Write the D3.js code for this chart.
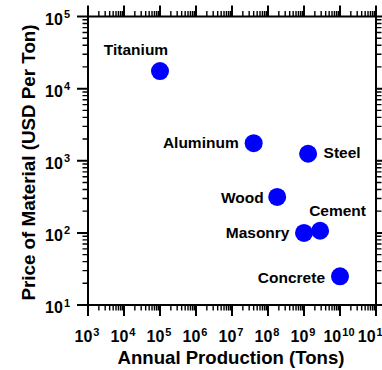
<!DOCTYPE html>
<html>
<head>
<meta charset="utf-8">
<script src="https://cdn.jsdelivr.net/npm/d3@7"></script>
<style>
  html, body { margin: 0; padding: 0; background: #fff; }
  svg { display: block; }
  text { font-family: "Liberation Sans", Arial, Helvetica, sans-serif; font-weight: bold; fill: #000; }
</style>
</head>
<body>
<svg id="chart" width="382" height="370"></svg>
<script>
// ---- data ----
const materials  = ["Titanium", "Aluminum", "Steel", "Wood", "Masonry", "Cement", "Concrete"];
const production = [1e5, 4e7, 1.3e9, 1.8e8, 1e9, 2.8e9, 1e10];     // tons per year
const price      = [17500, 1750, 1250, 315, 100, 107, 25];          // USD per ton
const xTickExponents = [3, 4, 5, 6, 7, 8, 9, 10, 11];
const yTickExponents = [1, 2, 3, 4, 5];
const xTitle = "Annual Production (Tons)";
const yTitle = "Price of Material (USD Per Ton)";

(function () {
const svg = d3.select("#chart");
const mLeft = 88, mRight = 376, mTop = 16.5, mBottom = 305;

const x = d3.scaleLog().domain([1e3, 1e11]).range([mLeft, mRight]);
const y = d3.scaleLog().domain([1e1, 1e5]).range([mBottom, mTop]);

// tick labels with superscripts
function powLabel(sel, exp) {
  sel.append("tspan").text("10");
  sel.append("tspan").attr("dx", 1).attr("dy", -6.5)
    .style("font-size", "11px").text(exp);
}
xTickExponents.forEach(e => {
  svg.append("text")
    .attr("x", x(Math.pow(10, e)) - (e === 11 ? 3 : 1)).attr("y", mBottom + 37)
    .attr("text-anchor", "middle").style("font-size", "16px")
    .call(s => powLabel(s, e));
});
yTickExponents.forEach(e => {
  svg.append("text")
    .attr("x", mLeft - 18).attr("y", y(Math.pow(10, e)) + 8)
    .attr("text-anchor", "end").style("font-size", "16px")
    .call(s => powLabel(s, e));
});

// axis titles
svg.append("text")
  .attr("x", (mLeft + mRight) / 2 - 1).attr("y", 363.5)
  .attr("text-anchor", "middle").style("font-size", "18.6px")
  .text(xTitle);
svg.append("text")
  .attr("transform", `translate(35,${162.5}) rotate(-90)`)
  .attr("text-anchor", "middle").style("font-size", "18.8px")
  .text(yTitle);

// points
const pts = materials.map((m, i) => ({ name: m, px: production[i], py: price[i] }));
svg.append("g").selectAll("circle").data(pts).join("circle")
  .attr("cx", d => x(d.px)).attr("cy", d => y(d.py))
  .attr("r", 9).attr("fill", "#0000ff");

// label placement (offsets from point centre)
const place = {
  Titanium: { anchor: "middle", dx: -24, dy: -16 },
  Aluminum: { anchor: "end", dx: -15, dy: 4.5 },
  Steel:    { anchor: "start", dx: 15.5, dy: 4.5 },
  Wood:     { anchor: "end", dx: -13.5, dy: 6.5 },
  Masonry:  { anchor: "end", dx: -14.5, dy: 5.5 },
  Cement:   { anchor: "middle", dx: 17.5, dy: -15 },
  Concrete: { anchor: "end", dx: -15, dy: 7 }
};
svg.append("g").selectAll("text").data(pts).join("text")
  .attr("x", d => x(d.px) + place[d.name].dx)
  .attr("y", d => y(d.py) + place[d.name].dy)
  .attr("text-anchor", d => place[d.name].anchor)
  .style("font-size", "15.5px")
  .text(d => d.name);

// ticks (drawn last), one path per side and weight
const isMajor = v => Math.abs(Math.log10(v) - Math.round(Math.log10(v))) < 1e-9;
const xAll = x.ticks(), yAll = y.ticks();
function tickPath(vals, scale, side, L) {
  return vals.map(v => {
    const p = scale(v);
    if (side === "b") return `M${p},${mBottom}V${mBottom + L}`;
    if (side === "t") return `M${p},${mTop}V${mTop - L}`;
    if (side === "l") return `M${mLeft},${p}H${mLeft - L}`;
    return `M${mRight},${p}H${mRight + L}`;
  }).join("");
}
const sets = [
  [xAll.filter(isMajor), x, "b", 11, 2], [xAll.filter(v => !isMajor(v)), x, "b", 5.5, 1.4],
  [xAll.filter(isMajor), x, "t", 11, 2], [xAll.filter(v => !isMajor(v)), x, "t", 5.5, 1.4],
  [yAll.filter(isMajor), y, "l", 11, 2], [yAll.filter(v => !isMajor(v)), y, "l", 5.5, 1.4],
  [yAll.filter(isMajor), y, "r", 11, 2], [yAll.filter(v => !isMajor(v)), y, "r", 5.5, 1.4]
];
const tg = svg.append("g");
sets.forEach(([vals, sc, side, L, w]) => {
  tg.append("path")
    .attr("d", tickPath(vals, sc, side, L))
    .attr("fill", "none").attr("stroke", "#000").attr("stroke-width", w);
});

// frame
svg.append("rect")
  .attr("x", mLeft).attr("y", mTop)
  .attr("width", mRight - mLeft).attr("height", mBottom - mTop)
  .attr("fill", "none").attr("stroke", "#000").attr("stroke-width", 2);
})();
</script>
</body>
</html>
